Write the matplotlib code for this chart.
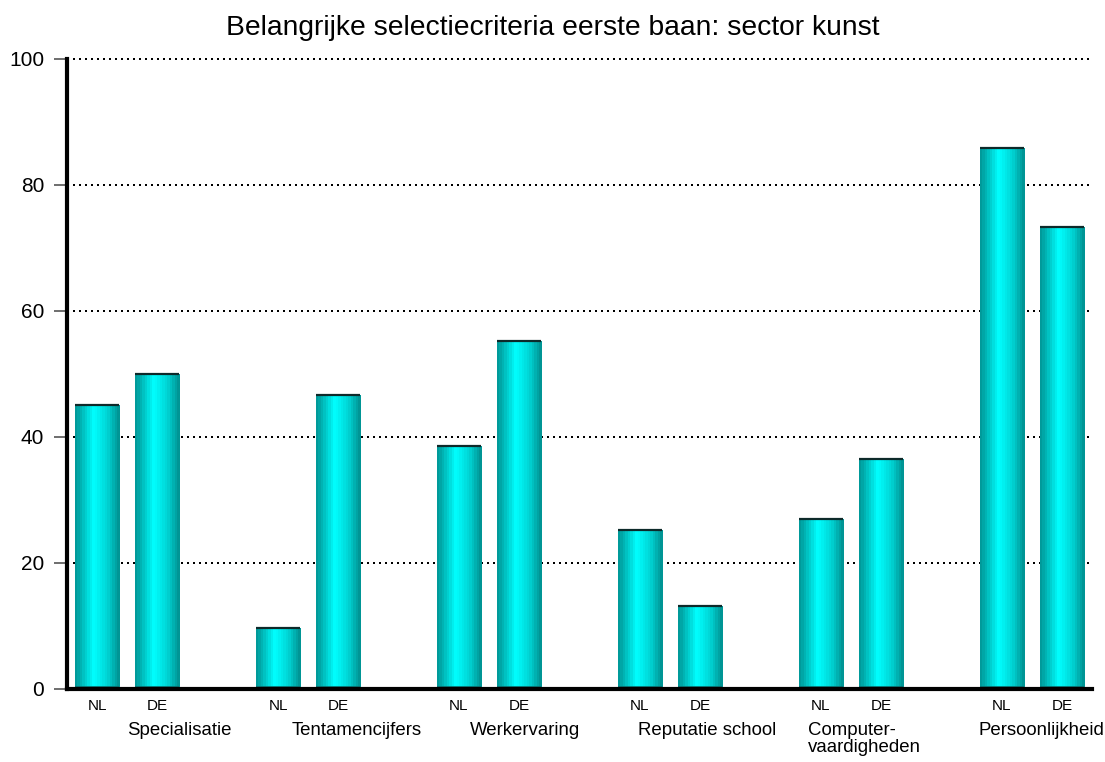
import numpy as np
import matplotlib
matplotlib.use("Agg")
import matplotlib.pyplot as plt
from matplotlib.colors import LinearSegmentedColormap

plt.rcParams['font.family'] = ['Liberation Sans', 'DejaVu Sans']

categories = ["Specialisatie", "Tentamencijfers", "Werkervaring",
              "Reputatie school", "Computer-\nvaardigheden", "Persoonlijkheid"]
countries = ["NL", "DE"]
nl_values = [45.1, 9.7, 38.6, 25.2, 27.0, 85.9]
de_values = [50.0, 46.7, 55.2, 13.2, 36.5, 73.3]
yticks = [0, 20, 40, 60, 80, 100]
title = "Belangrijke selectiecriteria eerste baan: sector kunst"

# label left-start positions (data x units) for category captions
label_x = [0.50, 3.22, 6.18, 8.97, 11.79, 14.62]

fig = plt.figure(figsize=(11.05, 7.62), dpi=100)
ax = fig.add_axes([67/1105, 1-689/762, (1092-67)/1105, (689-59)/762])

cmap = LinearSegmentedColormap.from_list(
    "cyl", [(0.0, "#009a9a"), (0.12, "#00b4b4"), (0.42, "#00ffff"),
            (0.75, "#00d2d2"), (1.0, "#009595")], N=18)
grad = np.linspace(0, 1, 18).reshape(1, -1)

width = 0.73
xs, vals, labs = [], [], []
for i in range(len(categories)):
    xs += [3*i, 3*i+1]
    vals += [nl_values[i], de_values[i]]
    labs += countries

bars = ax.bar(xs, vals, width=width, color="none", edgecolor="none", zorder=2)
for b, v in zip(bars, vals):
    x0 = b.get_x(); x1 = x0 + b.get_width()
    im = ax.imshow(grad, extent=[x0, x1, 0, v], aspect="auto", cmap=cmap,
                   interpolation="nearest", zorder=2)
    im.set_clip_path(b)
    ax.plot([x0, x1], [v, v], color="#0d2a2a", lw=1.6, zorder=3,
            solid_capstyle="butt")
    ax.plot([x0, x1], [0.35, 0.35], color="#0a6f6f", lw=1.2, zorder=3,
            solid_capstyle="butt")

ax.set_xlim(-0.5, 16.5)
ax.set_ylim(0, 100)
ax.set_yticks(yticks)
ax.set_yticklabels([str(t) for t in yticks], fontsize=15)
ax.tick_params(axis="y", length=9.5, width=1.2, color="#555555", pad=7,
               direction="out")
ax.set_xticks(xs)
ax.set_xticklabels(labs, fontsize=11)
ax.tick_params(axis="x", length=0, pad=7)

for t in yticks[1:]:
    ax.plot([-0.5, 16.5], [t, t], color="black", lw=1.44,
            linestyle=(0, (1, 2)), zorder=1, clip_on=False)

for s in ["top", "right"]:
    ax.spines[s].set_visible(False)
ax.spines["left"].set_linewidth(3)
ax.spines["bottom"].set_linewidth(3)
ax.spines["left"].set_zorder(4)
ax.spines["bottom"].set_zorder(4)

tr = ax.get_xaxis_transform()
for x, c in zip(label_x, categories):
    ax.text(x, -0.052, c, transform=tr, ha="left", va="top", fontsize=13.4,
            linespacing=1.04)

fig.text(0.5, 1-28/762, title, ha="center", va="center", fontsize=20.3)

fig.savefig("out.png", dpi=100)
